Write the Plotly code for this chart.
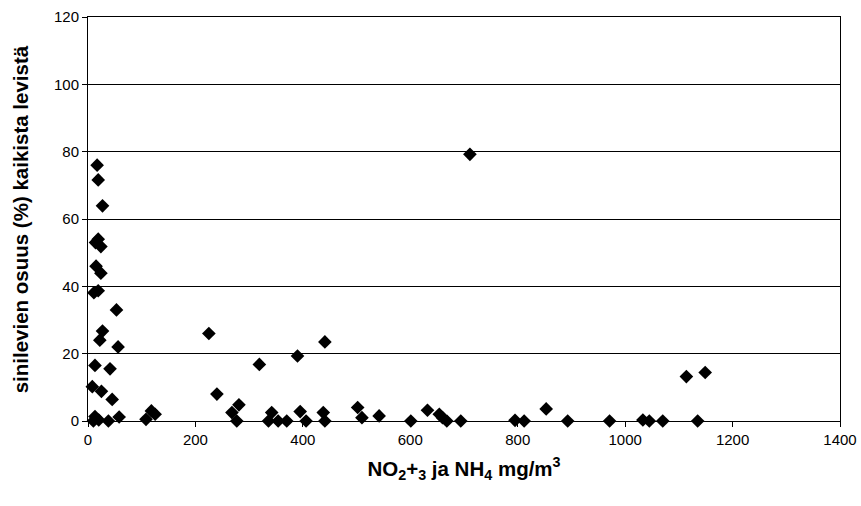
import plotly.graph_objects as go

x_vals = [17, 19, 27, 14, 19, 24, 15, 24, 11, 19, 53, 27, 22, 56, 13, 41, 8, 25, 45,
          13, 10, 38, 58, 20,
          108, 118, 125,
          225, 240, 268, 277, 281, 319, 336, 342, 354, 370, 390, 395, 406, 438, 441, 441,
          502, 510, 542, 601, 632, 654, 660, 668, 694, 711, 795, 812, 853, 893,
          971, 1033, 1045, 1070, 1114, 1135, 1149]
y_vals = [76, 71.6, 63.9, 53, 54, 51.8, 46, 43.9, 38.1, 38.7, 33, 26.7, 24, 22, 16.5, 15.5, 10.2, 8.8, 6.4,
          1.3, 0, 0, 1.2, 0.3,
          0.5, 3, 2,
          26, 8, 2.5, 0, 4.8, 16.8, 0, 2.5, 0, 0, 19.3, 2.8, 0, 2.5, 0, 23.5,
          4, 1, 1.5, 0, 3.2, 2, 1, 0, 0, 79.2, 0.2, 0, 3.6, 0,
          0, 0.3, 0, 0, 13.2, 0, 14.4]

x_ticks = [0, 200, 400, 600, 800, 1000, 1200, 1400]
y_ticks = [0, 20, 40, 60, 80, 100, 120]

fig = go.Figure(go.Scatter(
    x=x_vals, y=y_vals, mode="markers",
    marker=dict(symbol="diamond", size=10.5, color="black", line=dict(width=0)),
    cliponaxis=False,
))

font_family = "Liberation Sans, Arial, sans-serif"
fig.update_layout(
    width=861, height=506,
    margin=dict(l=88, r=21, t=17, b=85),
    paper_bgcolor="white", plot_bgcolor="white",
    showlegend=False,
    font=dict(family=font_family, size=15, color="black"),
    annotations=[dict(
        text="<b>sinilevien osuus (%) kaikista levistä</b>",
        xref="paper", yref="paper", x=-0.09, y=0.5,
        xanchor="center", yanchor="middle", textangle=-90,
        showarrow=False, font=dict(size=20.5, family=font_family, color="black"),
    )],
)
fig.update_xaxes(
    range=[0, 1400], tickvals=x_ticks, ticks="outside", ticklen=5, tickcolor="black",
    showline=True, linecolor="black", linewidth=1, mirror=True,
    showgrid=False, zeroline=False, automargin=False,
    title=dict(text="<b>NO<sub>2</sub>+<sub>3</sub> ja NH<sub>4</sub> mg/m<sup>3</sup></b>",
               font=dict(size=20.5), standoff=14),
)
fig.update_yaxes(
    range=[0, 120], tickvals=y_ticks, ticks="outside", ticklen=5, tickcolor="black",
    showline=True, linecolor="black", linewidth=1, mirror=True,
    showgrid=True, gridcolor="black", gridwidth=1, zeroline=False, automargin=False,
)
fig.write_html("out.html")
